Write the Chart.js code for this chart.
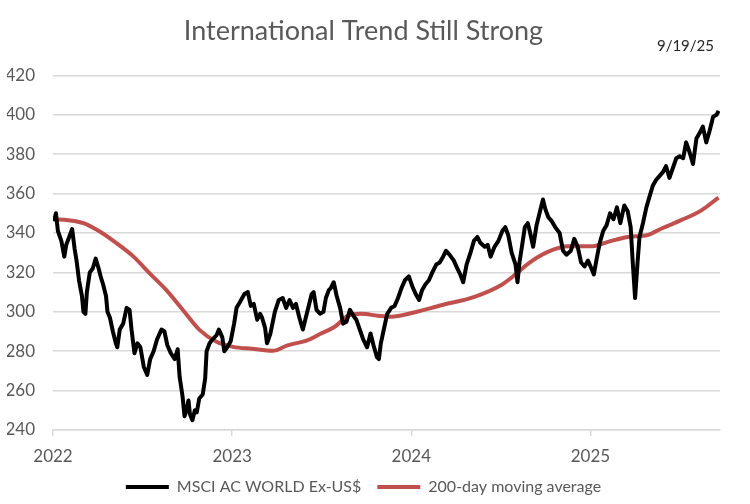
<!DOCTYPE html>
<html>
<head>
<meta charset="utf-8">
<script src="https://cdn.jsdelivr.net/npm/chart.js@4/dist/chart.umd.min.js"></script>
<style>
  html, body { margin: 0; padding: 0; background: #fff; }
  #wrap { width: 750px; height: 504px; }
</style>
</head>
<body>
<div id="wrap"><canvas id="chart"></canvas></div>
<script>
// valores (semanal aprox.)
const msciDates = [
  '2022-01-03','2022-01-07','2022-01-11','2022-01-18','2022-01-24','2022-01-28','2022-02-03','2022-02-09','2022-02-14','2022-02-18',
  '2022-02-23','2022-03-01','2022-03-04','2022-03-08','2022-03-11','2022-03-17','2022-03-23','2022-03-29','2022-04-04','2022-04-08',
  '2022-04-13','2022-04-19','2022-04-22','2022-04-27','2022-05-03','2022-05-09','2022-05-12','2022-05-17','2022-05-24','2022-05-31',
  '2022-06-06','2022-06-10','2022-06-16','2022-06-22','2022-06-28','2022-07-05','2022-07-12','2022-07-18','2022-07-25','2022-08-01',
  '2022-08-10','2022-08-16','2022-08-22','2022-08-29','2022-09-06','2022-09-12','2022-09-16','2022-09-22','2022-09-26','2022-09-30',
  '2022-10-04','2022-10-07','2022-10-12','2022-10-17','2022-10-21','2022-10-26','2022-11-02','2022-11-07','2022-11-10','2022-11-16',
  '2022-11-22','2022-11-30','2022-12-05','2022-12-12','2022-12-16','2022-12-22','2022-12-29',
  '2023-01-05','2023-01-10','2023-01-17','2023-01-26','2023-02-02','2023-02-08','2023-02-14','2023-02-21','2023-02-27','2023-03-03',
  '2023-03-09','2023-03-13','2023-03-20','2023-03-29','2023-04-06','2023-04-14','2023-04-21','2023-04-28','2023-05-05','2023-05-11',
  '2023-05-18','2023-05-25','2023-05-31','2023-06-07','2023-06-12','2023-06-16','2023-06-22','2023-06-29','2023-07-06','2023-07-11',
  '2023-07-17','2023-07-21','2023-07-27','2023-08-02','2023-08-09','2023-08-15','2023-08-22','2023-08-29','2023-09-05','2023-09-11',
  '2023-09-18','2023-09-25','2023-10-03','2023-10-10','2023-10-16','2023-10-23','2023-10-27','2023-10-31','2023-11-06','2023-11-13',
  '2023-11-21','2023-11-28','2023-12-05','2023-12-12','2023-12-19','2023-12-27',
  '2024-01-03','2024-01-10','2024-01-17','2024-01-23','2024-01-30','2024-02-06','2024-02-13','2024-02-21','2024-02-28','2024-03-06',
  '2024-03-12','2024-03-19','2024-03-28','2024-04-04','2024-04-10','2024-04-16','2024-04-23','2024-05-01','2024-05-08','2024-05-15',
  '2024-05-21','2024-05-30','2024-06-05','2024-06-11','2024-06-19','2024-06-27','2024-07-05','2024-07-11','2024-07-17','2024-07-24',
  '2024-08-01','2024-08-05','2024-08-09','2024-08-14','2024-08-20','2024-08-26','2024-08-30','2024-09-06','2024-09-13','2024-09-19',
  '2024-09-26','2024-10-01','2024-10-07','2024-10-14','2024-10-21','2024-10-30','2024-11-06','2024-11-13','2024-11-22','2024-11-29',
  '2024-12-06','2024-12-13','2024-12-20','2024-12-27',
  '2025-01-03','2025-01-08','2025-01-13','2025-01-20','2025-01-27','2025-02-03','2025-02-10','2025-02-17','2025-02-24','2025-03-03',
  '2025-03-11','2025-03-18','2025-03-24','2025-03-28','2025-04-02','2025-04-07','2025-04-11','2025-04-18','2025-04-25','2025-05-02',
  '2025-05-08','2025-05-15','2025-05-22','2025-05-29','2025-06-04','2025-06-11','2025-06-18','2025-06-25','2025-07-02','2025-07-09',
  '2025-07-15','2025-07-22','2025-07-29','2025-08-05','2025-08-12','2025-08-18','2025-08-25','2025-09-01','2025-09-08','2025-09-15',
  '2025-09-19'
];
const msciValues = [
  346,350,341,336,328,334,338,342,332,326,
  316,308,300,299,310,320,322,327,322,318,
  314,308,300,297,290,284,282,291,294,302,
  301,291,279,284,282,272,268,276,280,286,
  291,290,283,279,276,281,267,257,247,250,
  255,248,245,250,249,256,258,266,280,284,
  286,288,291,287,280,282,285,
  294,302,305,309,310,303,304,296,299,297,
  292,284,289,300,306,307,302,306,302,304,
  297,291,297,304,309,310,301,299,300,307,
  311,312,315,308,302,294,295,301,298,296,
  291,286,282,289,283,277,276,284,291,299,
  302,303,307,312,316,318,
  313,309,306,311,314,316,320,324,325,328,
  331,329,326,322,319,315,324,330,336,338,
  335,333,334,328,333,336,341,343,339,330,
  324,315,325,333,343,345,341,333,344,350,
  357,352,348,346,343,340,331,329,331,337,
  333,325,323,326,
  322,319,326,335,341,344,350,347,353,345,
  354,351,343,326,307,325,338,345,353,359,
  364,367,369,371,374,368,373,378,379,378,
  386,381,375,388,391,394,386,392,399,400,
  402
];
const maDates = [
  '2022-01-03','2022-02-01','2022-03-04','2022-04-07','2022-05-11','2022-06-14','2022-07-17','2022-08-20','2022-09-23','2022-10-27',
  '2022-11-30','2023-01-03','2023-02-10','2023-03-25','2023-04-24','2023-06-04','2023-07-01','2023-07-29','2023-08-25','2023-09-21',
  '2023-10-25','2023-11-21','2024-01-04','2024-03-02','2024-05-09','2024-07-02','2024-07-30','2024-08-27','2024-10-06','2024-11-16',
  '2025-01-06','2025-02-06','2025-03-18','2025-04-28','2025-05-26','2025-07-05','2025-08-15','2025-09-19'
];
const maValues = [
  347,346.5,345,340.6,334.7,328,319.5,311,300.8,290.7,
  284.8,282.2,281.2,280.2,283,285.6,289,292.4,298,299,
  298,297.5,299.5,303.3,307.6,313.5,318.6,324.5,330.4,333.3,
  333.3,335.5,338,339,342.3,346.5,351.5,358
];
const yearTicks = [2022, 2023, 2024, 2025];
const yMin = 240, yMax = 420, yStep = 20;
const xEnd = '2025-09-22';
const seriesNames = ['MSCI AC WORLD Ex-US$', '200-day moving average'];
const titleText = 'International Trend Still Strong';
const dateText = '9/19/25';

// data -> ano decimal
function toYear(s) {
  const [y, m, d] = s.split('-').map(Number);
  const start = Date.UTC(y, 0, 1);
  const end = Date.UTC(y + 1, 0, 1);
  return y + (Date.UTC(y, m - 1, d) - start) / (end - start);
}
function toPoints(dates, values) {
  return dates.map((d, i) => ({ x: toYear(d), y: values[i] }));
}

const FONT = 'Lato, "Open Sans", sans-serif';

// texto da data no canto superior direito
const datePlugin = {
  id: 'dateLabel',
  afterDraw(chart) {
    const ctx = chart.ctx;
    ctx.save();
    ctx.font = '15px ' + FONT;
    ctx.fillStyle = '#262626';
    ctx.textAlign = 'right';
    ctx.textBaseline = 'middle';
    ctx.fillText(dateText, chart.chartArea.right - 6, 46);
    ctx.restore();
  }
};

new Chart(document.getElementById('chart'), {
  type: 'line',
  data: {
    datasets: [{
      label: seriesNames[0],
      data: toPoints(msciDates, msciValues),
      borderColor: '#000000',
      backgroundColor: '#000000',
      borderWidth: 4,
      pointRadius: 0,
      tension: 0,
      borderJoinStyle: 'round'
    }, {
      label: seriesNames[1],
      data: toPoints(maDates, maValues),
      borderColor: '#c0504d',
      backgroundColor: '#c0504d',
      borderWidth: 4,
      pointRadius: 0,
      cubicInterpolationMode: 'monotone'
    }]
  },
  options: {
    responsive: true,
    maintainAspectRatio: false,
    animation: false,
    layout: { padding: { left: 7, right: 30, top: 0, bottom: -1 } },
    scales: {
      x: {
        type: 'linear',
        min: yearTicks[0],
        max: toYear(xEnd),
        afterBuildTicks: (axis) => { axis.ticks = yearTicks.map(v => ({ value: v })); },
        afterFit: (axis) => { axis.height = 33; },
        ticks: {
          callback: (v) => String(v),
          color: '#595959',
          font: { family: FONT, size: 17 },
          padding: 10,
          maxRotation: 0
        },
        grid: { drawOnChartArea: false, drawTicks: true, tickLength: 6, color: '#d9d9d9', lineWidth: 1.5 },
        border: { display: true, color: '#d9d9d9', width: 1.5 }
      },
      y: {
        min: yMin,
        max: yMax,
        afterFit: (axis) => { axis.width = 46; },
        ticks: {
          stepSize: yStep,
          color: '#595959',
          font: { family: FONT, size: 17 },
          padding: 18
        },
        grid: { color: '#d9d9d9', lineWidth: 1.5, drawTicks: false },
        border: { display: false }
      }
    },
    plugins: {
      title: {
        display: true,
        text: titleText,
        color: '#595959',
        font: { family: FONT, size: 27, weight: 'normal' },
        padding: { top: 15, bottom: 28 }
      },
      legend: {
        position: 'bottom',
        labels: {
          usePointStyle: true,
          pointStyle: 'line',
          pointStyleWidth: 43,
          color: '#595959',
          font: { family: FONT, size: 16 },
          padding: 16
        }
      },
      tooltip: { enabled: false }
    }
  },
  plugins: [datePlugin]
});
</script>
</body>
</html>
